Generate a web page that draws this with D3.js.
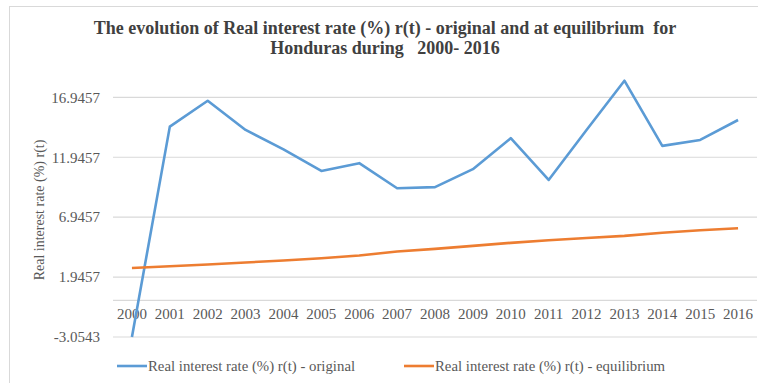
<!DOCTYPE html>
<html><head><meta charset="utf-8">
<script src="https://cdn.jsdelivr.net/npm/d3@7"></script>
<style>body{margin:0;background:#fff}svg{display:block}text{font-family:"Liberation Serif","DejaVu Serif",serif}</style>
</head><body>
<script>
const years = ["2000","2001","2002","2003","2004","2005","2006","2007","2008","2009","2010","2011","2012","2013","2014","2015","2016"];
const original = [-3.05,14.5,16.66,14.22,12.6,10.8,11.45,9.36,9.45,10.95,13.53,10.05,14.22,18.33,12.89,13.39,15.05];
const equilibrium = [2.70,2.85,3.00,3.16,3.33,3.52,3.75,4.08,4.30,4.55,4.80,5.02,5.20,5.38,5.65,5.85,6.02];
const yTicks = [-3.0543,1.9457,6.9457,11.9457,16.9457];
const seriesNames = ["Real interest rate (%) r(t) - original","Real interest rate (%) r(t) - equilibrium"];
const colors = ["#5b9bd5","#ed7d31"];
const titleLines = ["The evolution of Real interest rate (%) r(t) - original and at equilibrium  for","Honduras during   2000- 2016"];
const yTitle = "Real interest rate (%) r(t)";

const W=758,H=383;
const svg=d3.select("body").append("svg").attr("width",W).attr("height",H);
svg.append("rect").attr("x",9.5).attr("y",6.5).attr("width",W+5).attr("height",H+5).attr("fill","#fff").attr("stroke","#d9d9d9");

const x=d3.scaleBand().domain(years).range([113,757]);
const y=d3.scaleLinear().domain([-3.0543,16.9457]).range([337,97.3]);

svg.append("g").selectAll("line").data(yTicks).join("line")
 .attr("x1",113).attr("x2",757).attr("y1",d=>y(d)).attr("y2",d=>y(d))
 .attr("stroke","#d9d9d9").attr("stroke-width",1.2);
svg.append("line").attr("x1",113).attr("x2",757).attr("y1",y(0)).attr("y2",y(0)).attr("stroke","#d9d9d9").attr("stroke-width",1.2);

const yAxis=d3.axisLeft(y).tickValues(yTicks).tickFormat(d=>d.toFixed(4)).tickSize(0).tickPadding(0);
const ga=svg.append("g").attr("transform","translate(100,0)").call(yAxis);
ga.attr("font-family",null);
ga.select(".domain").remove();
ga.selectAll("text").attr("font-size",15).attr("fill","#595959");

const xAxis=d3.axisBottom(x).tickSize(0).tickPadding(0);
const gx=svg.append("g").attr("transform",`translate(0,${y(0)+8})`).call(xAxis);
gx.attr("font-family",null);
gx.select(".domain").remove();
gx.selectAll("text").attr("font-size",15).attr("fill","#595959").attr("dy","0.71em");

const line=d3.line().x((d,i)=>x(years[i])+x.bandwidth()/2).y(d=>y(d));
[original,equilibrium].forEach((s,k)=>{
  svg.append("path").datum(s).attr("d",line).attr("fill","none").attr("stroke",colors[k]).attr("stroke-width",2.6).attr("stroke-linejoin","round");
});

svg.append("g").selectAll("text").data(titleLines).join("text")
 .attr("x",385).attr("y",(d,i)=>34+i*20).attr("text-anchor","middle").style("white-space","pre")
 .attr("font-weight","bold").attr("font-size",18).attr("fill","#404040").text(d=>d);

svg.append("text").attr("transform","translate(44,210) rotate(-90)").attr("text-anchor","middle")
 .attr("font-size",14).attr("fill","#595959").text(yTitle);

const legX=[117,404];
seriesNames.forEach((n,k)=>{
  svg.append("line").attr("x1",legX[k]).attr("x2",legX[k]+30).attr("y1",366).attr("y2",366).attr("stroke",colors[k]).attr("stroke-width",2.6);
  svg.append("text").attr("x",legX[k]+31).attr("y",371).attr("font-size",14.8).attr("fill","#595959").text(n);
});
</script>
</body></html>
